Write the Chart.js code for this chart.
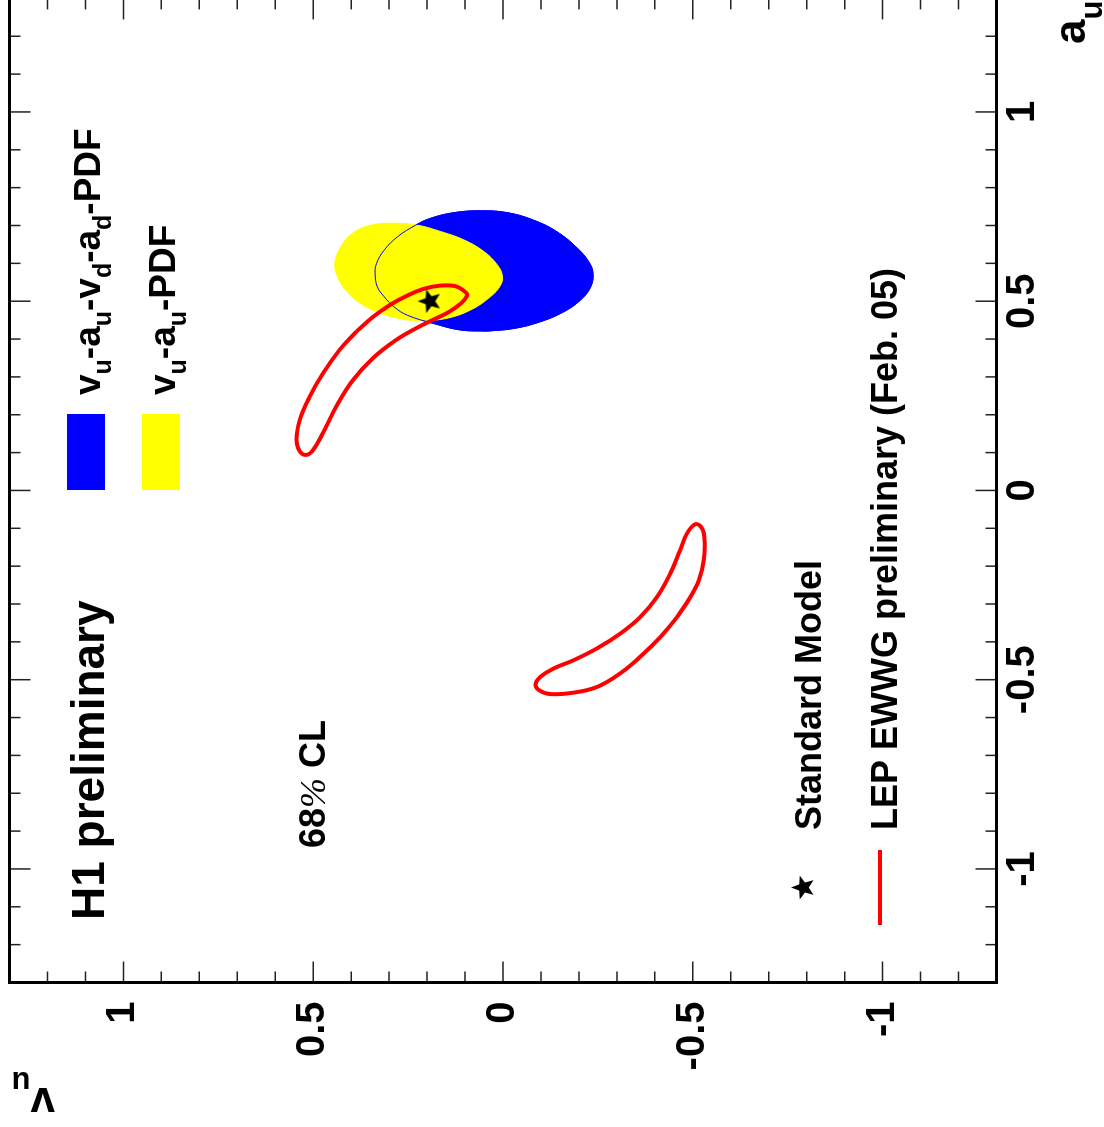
<!DOCTYPE html>
<html>
<head>
<meta charset="utf-8">
<title>H1 preliminary - v_u versus a_u</title>
<script src="https://cdn.jsdelivr.net/npm/chart.js@4.4.1/dist/chart.umd.min.js"></script>
<style>
  html, body { margin: 0; padding: 0; background: #fff; overflow: hidden; }
  /* the plot is drawn upright and then turned a quarter turn, like the landscape page */
  #page {
    position: absolute; left: 0; top: 0;
    width: 1132px; height: 1104px;
    transform-origin: 0 0;
    transform: translate(0px, 1127px) rotate(-90deg);
  }
</style>
</head>
<body>
<div id="page"><canvas id="chart" width="1132" height="1104"></canvas></div>
<script>
// axis range and tick labels (same for a_u and v_u)
const axisMin = -1.3;
const axisMax = 1.3;
const majorTicks = [-1, -0.5, 0, 0.5, 1];
const minorTicks = [-1.2, -1.1, -0.9, -0.8, -0.7, -0.6, -0.4, -0.3, -0.2, -0.1,
                    0.1, 0.2, 0.3, 0.4, 0.6, 0.7, 0.8, 0.9, 1.1, 1.2];

// 68% CL contour, v_u-a_u-v_d-a_d-PDF fit (blue)
const blueA = [0.421, 0.428, 0.446, 0.472, 0.503, 0.538, 0.574, 0.604, 0.640, 0.683, 0.714, 0.734, 0.739, 0.734,
               0.719, 0.701, 0.670, 0.635, 0.600, 0.574, 0.538, 0.512, 0.485, 0.463, 0.441, 0.424, 0.421];
const blueV = [0.041, -0.029, -0.099, -0.160, -0.204, -0.231, -0.237, -0.226, -0.196, -0.143, -0.081, -0.011, 0.059, 0.129,
               0.191, 0.230, 0.278, 0.313, 0.333, 0.337, 0.331, 0.313, 0.287, 0.252, 0.182, 0.112, 0.041];

// 68% CL contour, v_u-a_u-PDF fit (yellow)
const yellowA = [0.448, 0.455, 0.477, 0.512, 0.543, 0.569, 0.596, 0.631, 0.662, 0.684, 0.701,
                 0.706, 0.701, 0.679, 0.644, 0.600, 0.565, 0.529, 0.494, 0.468, 0.452, 0.448];
const yellowV = [0.208, 0.147, 0.085, 0.033, 0.006, 0.002, 0.015, 0.050, 0.103, 0.164, 0.226,
                 0.287, 0.348, 0.397, 0.427, 0.443, 0.436, 0.414, 0.375, 0.322, 0.261, 0.208];

// LEP EWWG preliminary (Feb. 05), two 68% CL regions
const lepUpA = [0.420, 0.372, 0.310, 0.248, 0.187, 0.134, 0.103, 0.094, 0.107, 0.152, 0.222, 0.292, 0.350, 0.398,
                0.429, 0.451, 0.473, 0.495, 0.512, 0.521, 0.539, 0.541, 0.532, 0.514, 0.490, 0.459, 0.420];
const lepUpV = [0.386, 0.430, 0.474, 0.509, 0.535, 0.544, 0.535, 0.518, 0.500, 0.474, 0.439, 0.395, 0.342, 0.281,
                0.228, 0.184, 0.140, 0.110, 0.096, 0.096, 0.123, 0.167, 0.211, 0.254, 0.298, 0.342, 0.386];
const lepLoA = [-0.334, -0.387, -0.439, -0.483, -0.519, -0.534, -0.538, -0.527, -0.510, -0.492, -0.470, -0.448, -0.417,
                -0.378, -0.334, -0.281, -0.219, -0.157, -0.113, -0.089, -0.100, -0.131, -0.184, -0.237, -0.281, -0.334];
const lepLoV = [-0.459, -0.415, -0.362, -0.309, -0.248, -0.187, -0.125, -0.094, -0.086, -0.099, -0.134, -0.187, -0.248,
                -0.309, -0.362, -0.406, -0.441, -0.467, -0.485, -0.507, -0.524, -0.531, -0.529, -0.516, -0.494, -0.459];

// Standard Model point
const smA = [0.5];
const smV = [0.195];

const SANS = '"Liberation Sans", Arial, Helvetica, sans-serif';
const SERIF = '"Liberation Serif", "Times New Roman", serif';

function toPoints(xs, ys) {
  return xs.map((x, i) => ({ x: x, y: ys[i] }));
}

// filled five-pointed star, used for the SM marker and its legend entry
function makeStar(radius) {
  const c = document.createElement('canvas');
  const size = Math.ceil(radius * 2) + 2;
  c.width = size;
  c.height = size;
  const g = c.getContext('2d');
  g.translate(size / 2, size / 2 + 1);
  g.beginPath();
  for (let i = 0; i < 10; i++) {
    const r = i % 2 === 0 ? radius : radius * 0.42;
    const ang = -Math.PI / 2 + i * Math.PI / 5;
    g.lineTo(r * Math.cos(ang), r * Math.sin(ang));
  }
  g.closePath();
  g.fillStyle = '#000';
  g.fill();
  return c;
}
const starImg = makeStar(12.5);

// draw text pieces one after another (used for subscripts and the % sign)
function drawRuns(ctx, runs, x, y) {
  runs.forEach(r => {
    ctx.font = r.font;
    ctx.fillText(r.text, x, y + (r.dy || 0));
    x += ctx.measureText(r.text).width;
  });
  return x;
}

function subscripted(parts, size, subSize, subDy) {
  // parts: [text, subscript, text, subscript, ...]
  return parts.map((t, i) => ({
    text: t,
    font: `bold ${i % 2 ? subSize : size}px ${SANS}`,
    dy: i % 2 ? subDy : 0
  }));
}

// fixed axis sizes, and no extra label padding so the frame sits where ROOT put it
function fixScale(size) {
  return s => {
    if (s.isHorizontal()) s.height = size; else s.width = size;
    s.paddingTop = 0;
    s.paddingBottom = 0;
    s.paddingLeft = 0;
    s.paddingRight = 0;
  };
}

const rootFrame = {
  id: 'rootFrame',
  afterDatasetsDraw(chart) {
    const { ctx, chartArea: a } = chart;
    const xs = chart.scales.x;
    const ys = chart.scales.y;
    ctx.save();
    // ticks point inwards on all four sides, like ROOT
    ctx.strokeStyle = '#222';
    ctx.lineWidth = 1.5;
    ctx.beginPath();
    majorTicks.concat(minorTicks).forEach(v => {
      const len = majorTicks.includes(v) ? 21 : 11;
      const px = xs.getPixelForValue(v);
      ctx.moveTo(px, a.bottom); ctx.lineTo(px, a.bottom - len);
      ctx.moveTo(px, a.top); ctx.lineTo(px, a.top + len);
      const py = ys.getPixelForValue(v);
      ctx.moveTo(a.left, py); ctx.lineTo(a.left + len, py);
      ctx.moveTo(a.right, py); ctx.lineTo(a.right - len, py);
    });
    ctx.stroke();
    ctx.strokeStyle = '#000';
    ctx.lineWidth = 3;
    ctx.strokeRect(a.left, a.top, a.right - a.left, a.bottom - a.top);
    ctx.restore();
  },
  afterDraw(chart) {
    const ctx = chart.ctx;
    ctx.save();
    ctx.fillStyle = '#000';
    ctx.textAlign = 'left';
    ctx.textBaseline = 'alphabetic';

    // axis titles
    drawRuns(ctx, subscripted(['a', 'u'], 44, 31, 17), 1083, 1085);
    ctx.save();
    ctx.translate(39, 55);
    ctx.rotate(-Math.PI / 2);
    drawRuns(ctx, subscripted(['v', 'u'], 44, 31, 16), 0, 0);
    ctx.restore();

    // H1 preliminary, 68% CL
    ctx.font = `bold 46px ${SANS}`;
    ctx.fillText('H1 preliminary', 207, 104);
    drawRuns(ctx, [
      { text: '68', font: `bold 36px ${SANS}` },
      { text: '%', font: `italic 36px ${SERIF}` },
      { text: ' CL', font: `bold 36px ${SANS}` }
    ], 279, 325);

    // fit legend
    ctx.fillStyle = '#0000ff';
    ctx.fillRect(637, 67, 76, 38);
    ctx.fillStyle = '#ffff00';
    ctx.fillRect(637, 142, 76, 38);
    ctx.fillStyle = '#000';
    drawRuns(ctx, subscripted(['v', 'u', '-a', 'u', '-v', 'd', '-a', 'd', '-PDF'], 37, 25, 11), 732, 100);
    drawRuns(ctx, subscripted(['v', 'u', '-a', 'u', '-PDF'], 37, 25, 11), 732, 175);

    // Standard Model and LEP legend
    ctx.drawImage(starImg, 239.5 - starImg.width / 2, 802.5 - starImg.height / 2);
    ctx.font = `bold 36px ${SANS}`;
    ctx.fillText('Standard Model', 297, 821);
    ctx.fillText('LEP EWWG preliminary (Feb. 05)', 297, 897);
    ctx.strokeStyle = '#ff0000';
    ctx.lineWidth = 4;
    ctx.beginPath();
    ctx.moveTo(202, 880);
    ctx.lineTo(277, 880);
    ctx.stroke();
    ctx.restore();
  }
};

const tickFont = { family: SANS, size: 40, weight: 'bold', lineHeight: 1 };
const contour = { showLine: true, pointRadius: 0, tension: 0.4 };

new Chart(document.getElementById('chart'), {
  type: 'scatter',
  data: {
    datasets: [
      Object.assign({ label: 'vu-au-vd-ad-PDF', data: toPoints(blueA, blueV), fill: 'shape',
        backgroundColor: '#0000ff', borderColor: '#0000ff', borderWidth: 1, order: 5 }, contour),
      Object.assign({ label: 'vu-au-PDF', data: toPoints(yellowA, yellowV), fill: 'shape',
        backgroundColor: '#ffff00', borderColor: '#ffff00', borderWidth: 1, order: 4 }, contour),
      Object.assign({ label: 'vu-au-vd-ad-PDF outline', data: toPoints(blueA, blueV), fill: false,
        borderColor: '#0000ff', borderWidth: 1, order: 3 }, contour),
      Object.assign({ label: 'LEP EWWG', data: toPoints(lepUpA, lepUpV), fill: false,
        borderColor: '#ff0000', borderWidth: 4, order: 2 }, contour),
      Object.assign({ label: 'LEP EWWG', data: toPoints(lepLoA, lepLoV), fill: false,
        borderColor: '#ff0000', borderWidth: 4, order: 2 }, contour),
      { label: 'Standard Model', data: toPoints(smA, smV), pointStyle: starImg, pointRadius: 12,
        showLine: false, order: 1 }
    ]
  },
  options: {
    responsive: false,
    animation: false,
    events: [],
    layout: { autoPadding: false, padding: { top: 9.5, right: 3.4, left: 0, bottom: 0 } },
    plugins: {
      legend: { display: false },
      tooltip: { enabled: false }
    },
    scales: {
      x: {
        type: 'linear',
        position: 'bottom',
        min: axisMin,
        max: axisMax,
        afterBuildTicks: s => { s.ticks = majorTicks.map(v => ({ value: v })); },
        afterFit: fixScale(107.5),
        grid: { display: false, drawTicks: false },
        border: { display: false },
        ticks: { color: '#000', padding: 6, maxRotation: 0, autoSkip: false, font: tickFont,
                 callback: v => String(v) }
      },
      y: {
        type: 'linear',
        position: 'left',
        min: axisMin,
        max: axisMax,
        afterBuildTicks: s => { s.ticks = majorTicks.map(v => ({ value: v })); },
        afterFit: fixScale(144.5),
        grid: { display: false, drawTicks: false },
        border: { display: false },
        ticks: { color: '#000', padding: 19, autoSkip: false, font: tickFont,
                 callback: v => String(v) }
      }
    }
  },
  plugins: [rootFrame]
});
</script>
</body>
</html>
